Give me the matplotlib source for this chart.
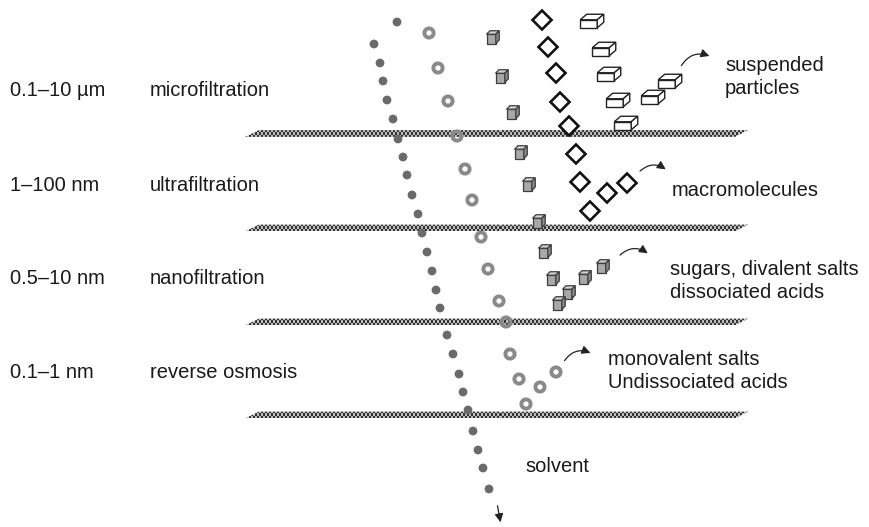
import matplotlib.pyplot as plt
import numpy as np
from matplotlib.patches import Polygon, Circle, FancyArrowPatch

W, H = 869, 527

# membrane layers (centre y in px) and the labels beside them
membrane_y = [133.5, 228, 322, 415]
size_labels = ["0.1–10 µm", "1–100 nm", "0.5–10 nm", "0.1–1 nm"]
process_labels = ["microfiltration", "ultrafiltration", "nanofiltration", "reverse osmosis"]
label_y = [96, 191, 284, 378]

# particle positions (px)
solvent_x = [397, 374, 380, 383, 387, 393, 398, 403, 407, 412, 418, 422,
             427, 432, 436, 440, 447, 453, 459, 463, 468, 473, 478, 483, 489]
solvent_y = [22, 44, 63, 81, 100, 119, 139, 157, 175, 195, 214, 233,
             252, 271, 290, 308, 335, 354, 374, 392, 410, 431, 450, 468, 489]

ring_x = [429, 438, 448, 457, 465, 472, 481, 488, 499, 506, 510, 519, 526, 540, 556]
ring_y = [33, 68, 101, 136, 169, 200, 237, 269, 301, 322, 354, 379, 404, 387, 372]

cube_x = [492, 501, 512, 520, 528, 538, 544, 552, 568, 558, 584, 602]
cube_y = [38, 77, 113, 153, 185, 222, 252, 279, 293, 304, 278, 267]

diamond_x = [542, 548, 556, 560, 569, 576, 580, 590, 607, 627]
diamond_y = [20, 47, 73, 102, 126, 154, 182, 211, 193, 183]

box_x = [592, 604, 609, 618, 626, 670, 653]
box_y = [21, 49, 74, 100, 123, 81, 97]

# curved arrows: start and end (px)
arrows = [((680, 68), (712, 57)),
          ((638, 173), (668, 171)),
          ((618, 257), (650, 255)),
          ((563, 363), (593, 354))]

right_labels = ["suspended\nparticles", "macromolecules",
                "sugars, divalent salts\ndissociated acids",
                "monovalent salts\nUndissociated acids", "solvent"]
right_x = [725, 672, 670, 608, 525]
right_y = [94, 196, 298, 388, 472]

plt.rcParams['font.family'] = ['Liberation Sans', 'DejaVu Sans']

fig = plt.figure(figsize=(W / 100, H / 100), dpi=100)
ax = fig.add_axes([0, 0, 1, 1])
ax.set_xlim(0, W)
ax.set_ylim(H, 0)
ax.axis("off")

# membranes: checkered parallelograms
for yc in membrane_y:
    y0, y1 = yc - 3.4, yc + 3.4
    x_left, x_right = 245, 748
    nx = int((x_right - x_left) / 2)
    ny = 3
    board = (np.add.outer(np.arange(ny), np.arange(nx)) % 2).astype(float)
    im = ax.imshow(board, cmap="gray", vmin=-0.4, vmax=1.5,
                   extent=(x_left, x_right, y1, y0), interpolation="nearest",
                   aspect="auto", zorder=2)
    poly = Polygon([(x_left + 14, y0), (x_right, y0), (x_right - 13, y1), (x_left, y1)],
                   closed=True, facecolor="none", edgecolor="none",
                   transform=ax.transData)
    ax.add_patch(poly)
    im.set_clip_path(poly)

# solvent dots
ax.scatter(solvent_x, solvent_y, s=40, color="#6a6a6a", edgecolors="none", zorder=3)

# rings
for x, y in zip(ring_x, ring_y):
    ax.add_patch(Circle((x, y), 4.6, facecolor="none", edgecolor="#8a8a8a", lw=2.8, zorder=3))

# small grey cubes
for x, y in zip(cube_x, cube_y):
    s, d = 11, 3.5
    fx0, fy0 = x - s / 2, y - s / 2 + d / 2
    fx1, fy1 = fx0 + s - d / 2, fy0 + s - d / 2
    front = [(fx0, fy0), (fx1, fy0), (fx1, fy1), (fx0, fy1)]
    top = [(fx0, fy0), (fx0 + d, fy0 - d), (fx1 + d, fy0 - d), (fx1, fy0)]
    side = [(fx1, fy0), (fx1 + d, fy0 - d), (fx1 + d, fy1 - d), (fx1, fy1)]
    ax.add_patch(Polygon(front, closed=True, facecolor="#a8a8a8", edgecolor="#3c3c3c", lw=0.9, zorder=3))
    ax.add_patch(Polygon(top, closed=True, facecolor="#d2d2d2", edgecolor="#3c3c3c", lw=0.9, zorder=3))
    ax.add_patch(Polygon(side, closed=True, facecolor="#8a8a8a", edgecolor="#3c3c3c", lw=0.9, zorder=3))

# open diamonds
for x, y in zip(diamond_x, diamond_y):
    r = 9.5
    ax.add_patch(Polygon([(x, y - r), (x + r, y), (x, y + r), (x - r, y)], closed=True,
                         facecolor="white", edgecolor="#111111", lw=1.9, zorder=3))

# flat white boxes
for x, y in zip(box_x, box_y):
    w, h, dx, dy = 17, 8, 6.5, 5.5
    fx0, fy0 = x - w / 2 - dx / 2, y - h / 2 + dy / 2
    fx1, fy1 = fx0 + w, fy0 + h
    front = [(fx0, fy0), (fx1, fy0), (fx1, fy1), (fx0, fy1)]
    top = [(fx0, fy0), (fx0 + dx, fy0 - dy), (fx1 + dx, fy0 - dy), (fx1, fy0)]
    side = [(fx1, fy0), (fx1 + dx, fy0 - dy), (fx1 + dx, fy1 - dy), (fx1, fy1)]
    for pts in (front, top, side):
        ax.add_patch(Polygon(pts, closed=True, facecolor="white", edgecolor="#222222",
                             lw=1.0, zorder=3))

# curved arrows
for (p0, p1) in arrows:
    ax.add_patch(FancyArrowPatch(p0, p1, connectionstyle="arc3,rad=-0.45",
                                 arrowstyle="-|>,head_length=5,head_width=2.5",
                                 color="#222222", lw=0.9, zorder=4))
# solvent arrow
ax.add_patch(FancyArrowPatch((497, 503), (501, 525), arrowstyle="-|>,head_length=5,head_width=2.5",
                             color="#222222", lw=0.9, zorder=4))

fs = 14.5
for lab, yy in zip(size_labels, label_y):
    ax.text(10, yy, lab, fontsize=fs, color="#1a1a1a", va="baseline", ha="left")
for lab, yy in zip(process_labels, label_y):
    ax.text(150, yy, lab, fontsize=fs, color="#1a1a1a", va="baseline", ha="left")
for lab, xx, yy in zip(right_labels, right_x, right_y):
    ax.text(xx, yy, lab, fontsize=fs, color="#1a1a1a", va="baseline", ha="left",
            linespacing=1.25)

fig.savefig("out.png", dpi=100)
